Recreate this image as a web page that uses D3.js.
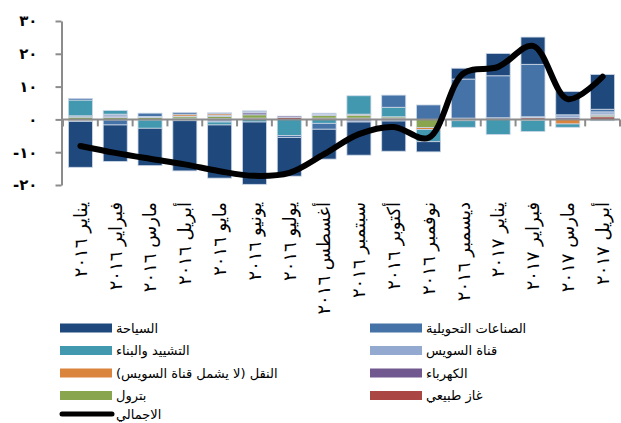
<!DOCTYPE html>
<html>
<head>
<meta charset="utf-8">
<script src="https://cdn.jsdelivr.net/npm/d3@7"></script>
<style>
  body { margin: 0; background: #fff; }
  svg { display: block; }
</style>
</head>
<body>
<svg id="chart" width="621" height="423"></svg>
<script>
// Months on the category axis
const months = [
  "يناير ٢٠١٦", "فبراير ٢٠١٦", "مارس ٢٠١٦", "أبريل ٢٠١٦",
  "مايو ٢٠١٦", "يونيو ٢٠١٦", "يوليو ٢٠١٦", "أغسطس ٢٠١٦",
  "سبتمبر ٢٠١٦", "أكتوبر ٢٠١٦", "نوفمبر ٢٠١٦", "ديسمبر ٢٠١٦",
  "يناير ٢٠١٧", "فبراير ٢٠١٧", "مارس ٢٠١٧", "أبريل ٢٠١٧"
];

// Contribution of each sector (percentage points)
const tourism      = [-14.0, -11.1, -11.4, -15.3, -16.2, -19.0, -11.8, -9.1, -10.1, -9.2, -3.1, 3.3, 6.8, 8.3, 7.1, 10.6];
const manufacturing= [0.5, -1.5, 1.0, 0.5, 0.3, 0.3, -0.6, -1.8, 0, 3.7, 4.4, 11.9, 12.8, 16.0, 0, 0.8];
const construction = [4.8, 1.1, -2.5, 0, -0.9, -0.8, -4.9, -1.2, 5.6, 2.9, -3.7, -2.0, -4.6, -3.4, -1.0, -0.4];
const suezCanal    = [0.4, 0.6, 0.3, -0.4, -0.8, 0.3, 0, 0.4, -0.8, -0.5, 0, 0.4, 0.5, 0.3, 0.9, 0.7];
const transport    = [-0.3, 0, 0, 0.6, 0.5, 0, 0, 0, 0.3, 0, -0.6, -0.4, 0, -0.3, -1.4, 0];
const electricity  = [0, 0.4, 0, 0.2, 0.3, 0.6, 0.4, 0.3, 0, 0, 0, 0, 0, 0, 0.5, 0.3];
const petroleum    = [0.7, 0.6, 0.6, 0.6, 0.7, 1.0, 0, 0.8, 0.9, 0.4, -2.5, 0, 0, 0, 0, 0.5];
const naturalGas   = [-0.3, -0.2, -0.2, 0.2, 0.2, 0.4, 0.6, 0.4, 0.4, 0.4, 0, 0, 0, 0.5, 0, 0.8];

// Overall total
const total = [-8.1, -10.2, -12.0, -13.7, -15.8, -17.2, -16.3, -10.6, -4.5, -2.3, -5.6, 14.0, 16.0, 22.4, 6.2, 13.0];

// Value axis
const yTicks = [-20, -10, 0, 10, 20, 30];
const yTickLabels = ["-٢٠", "-١٠", "٠", "١٠", "٢٠", "٣٠"];

// Series definitions, listed from the zero line outward
const series = [
  { key: "gas",          name: "غاز طبيعي",                    color: "#AA4643", values: naturalGas },
  { key: "petroleum",    name: "بترول",                         color: "#89A54E", values: petroleum },
  { key: "electricity",  name: "الكهرباء",                      color: "#71588F", values: electricity },
  { key: "transport",    name: "النقل (لا يشمل قناة السويس)",   color: "#DB843D", values: transport },
  { key: "suez",         name: "قناة السويس",                   color: "#93A9CF", values: suezCanal },
  { key: "construction", name: "التشييد والبناء",               color: "#4198AF", values: construction },
  { key: "manufacturing",name: "الصناعات التحويلية",            color: "#4572A7", values: manufacturing },
  { key: "tourism",      name: "السياحة",                       color: "#1F497D", values: tourism }
];
const totalName = "الاجمالي";

const table = months.map((m, i) => {
  const row = { month: m };
  series.forEach(s => { row[s.key] = s.values[i]; });
  return row;
});

const svg = d3.select("#chart");
const fontFamily = "'DejaVu Sans', 'Liberation Sans', Arial, sans-serif";

const x = d3.scaleBand()
  .domain(months)
  .range([63, 620])
  .paddingInner(0.31)
  .paddingOuter(0.155);

const y = d3.scaleLinear().domain([-20, 30]).range([185, 21]);

const stacked = d3.stack()
  .keys(series.map(s => s.key))
  .offset(d3.stackOffsetDiverging)(table);

const colorOf = Object.fromEntries(series.map(s => [s.key, s.color]));

// Stacked bars
svg.append("g")
  .selectAll("g")
  .data(stacked)
  .join("g")
    .attr("fill", d => colorOf[d.key])
  .selectAll("rect")
  .data(d => d)
  .join("rect")
    .attr("x", d => x(d.data.month))
    .attr("width", x.bandwidth())
    .attr("y", d => y(Math.max(d[0], d[1])))
    .attr("height", d => Math.abs(y(d[0]) - y(d[1])))
    .attr("stroke", "#cdd8e6")
    .attr("stroke-width", 0.8);

// Category axis along zero
const axisColor = "#8c8c8c";
const step = x.step();
const gap = (step - x.bandwidth()) / 2;
const boundaries = d3.range(months.length + 1).map(i =>
  i < months.length ? x(months[i]) - gap : x(months[months.length - 1]) + x.bandwidth() + gap);

const xAxis = svg.append("g");
xAxis.append("line")
  .attr("x1", 61.5).attr("x2", boundaries[boundaries.length - 1])
  .attr("y1", y(0)).attr("y2", y(0))
  .attr("stroke", axisColor).attr("stroke-width", 2);
xAxis.selectAll("line.tick")
  .data(boundaries)
  .join("line")
    .attr("class", "tick")
    .attr("x1", d => d).attr("x2", d => d)
    .attr("y1", y(0)).attr("y2", y(0) + 7)
    .attr("stroke", axisColor).attr("stroke-width", 2);

// Category labels, rotated
svg.append("g")
  .selectAll("text")
  .data(months)
  .join("text")
    .attr("transform", d => `translate(${x(d) + x.bandwidth() / 2},202) rotate(-90)`)
    .attr("direction", "rtl")
    .attr("text-anchor", "start")
    .attr("dy", "0.35em")
    .attr("font-family", fontFamily)
    .attr("font-size", 18)
    .attr("fill", "#000")
    .text(d => d);

// Value axis
const yAxis = svg.append("g")
  .attr("transform", "translate(61.5,0)")
  .call(d3.axisLeft(y)
    .tickValues(yTicks)
    .tickSize(6)
    .tickSizeOuter(0)
    .tickPadding(18)
    .tickFormat((d, i) => yTickLabels[i]));
yAxis.select(".domain").attr("stroke", axisColor).attr("stroke-width", 2);
yAxis.selectAll(".tick line").attr("stroke", axisColor).attr("stroke-width", 2);
yAxis.selectAll(".tick text")
  .attr("font-family", fontFamily)
  .attr("font-size", 15)
  .attr("font-weight", "bold")
  .attr("fill", "#000");

// Total line
const line = d3.line()
  .x((d, i) => x(months[i]) + x.bandwidth() / 2)
  .y(d => y(d))
  .curve(d3.curveCatmullRom.alpha(0.5));

svg.append("path")
  .datum(total)
  .attr("d", line)
  .attr("fill", "none")
  .attr("stroke", "#000")
  .attr("stroke-width", 6)
  .attr("stroke-linecap", "round")
  .attr("stroke-linejoin", "round");

// Legend
const legendItems = [
  { name: "السياحة",                     color: "#1F497D", col: 0, row: 0 },
  { name: "الصناعات التحويلية",          color: "#4572A7", col: 1, row: 0 },
  { name: "التشييد والبناء",             color: "#4198AF", col: 0, row: 1 },
  { name: "قناة السويس",                 color: "#93A9CF", col: 1, row: 1 },
  { name: "النقل (لا يشمل قناة السويس)", color: "#DB843D", col: 0, row: 2 },
  { name: "الكهرباء",                    color: "#71588F", col: 1, row: 2 },
  { name: "بترول",                       color: "#89A54E", col: 0, row: 3 },
  { name: "غاز طبيعي",                   color: "#AA4643", col: 1, row: 3 }
];
const colX = [60, 370];
const rowY = r => 328 + r * 22.5;

const legend = svg.append("g").attr("font-family", fontFamily).attr("font-size", 13);
const item = legend.selectAll("g")
  .data(legendItems)
  .join("g")
    .attr("transform", d => `translate(${colX[d.col]},${rowY(d.row)})`);
item.append("rect")
  .attr("x", 0).attr("y", -4.5)
  .attr("width", 52).attr("height", 9)
  .attr("fill", d => d.color);
item.append("text")
  .attr("x", 56)
  .attr("dy", "0.35em")
  .attr("direction", "rtl")
  .attr("text-anchor", "end")
  .attr("fill", "#000")
  .text(d => d.name);

// Total entry sits just inside the bottom edge
const totalItem = legend.append("g").attr("transform", `translate(${colX[0]},414)`);
totalItem.append("line")
  .attr("x1", 2).attr("x2", 52)
  .attr("stroke", "#000").attr("stroke-width", 5)
  .attr("stroke-linecap", "round");
totalItem.append("text")
  .attr("x", 56)
  .attr("dy", "0.35em")
  .attr("direction", "rtl")
  .attr("text-anchor", "end")
  .attr("fill", "#000")
  .text(totalName);
</script>
</body>
</html>
